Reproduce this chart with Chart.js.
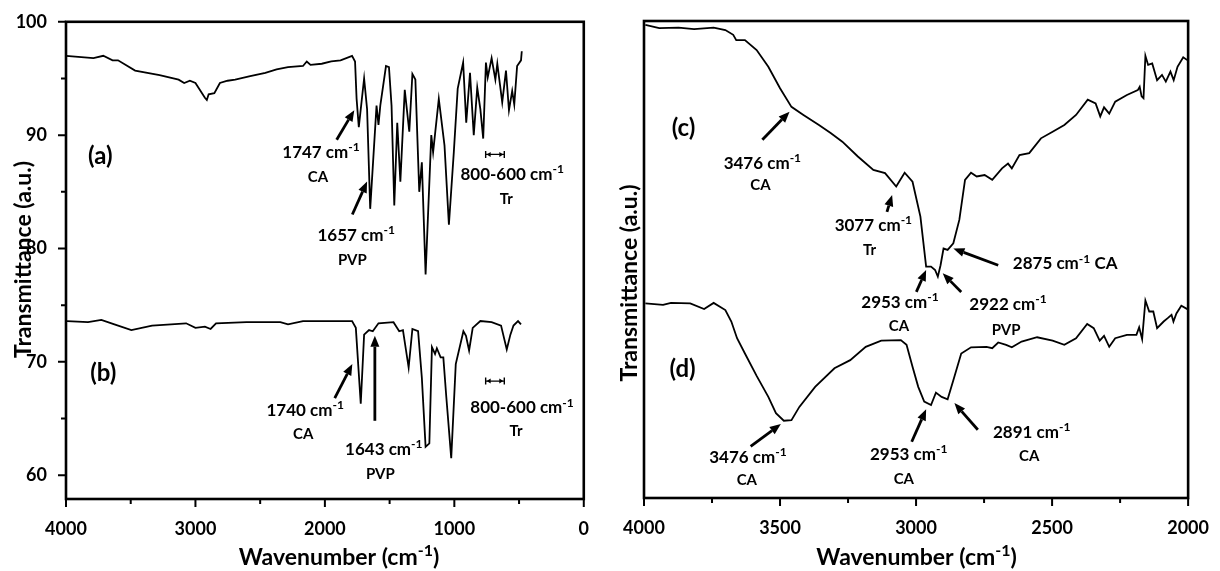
<!DOCTYPE html>
<html lang="en">
<head>
<meta charset="UTF-8">
<title>FTIR spectra</title>
<script src="https://cdn.jsdelivr.net/npm/chart.js"></script>
<style>
  html, body { margin: 0; padding: 0; background: #fff; }
  #wrap { position: relative; width: 1220px; height: 571px; }
  .box { position: absolute; top: 0; height: 571px; }
  #left { left: 0; width: 600px; }
  #right { left: 600px; width: 620px; }
</style>
</head>
<body>
<div id="wrap">
  <div class="box" id="left"><canvas id="chartLeft"></canvas></div>
  <div class="box" id="right"><canvas id="chartRight"></canvas></div>
</div>
<script>
// ---- spectrum (a) : transmittance vs wavenumber
const aWn = [4000,3788,3712,3640,3598,3466,3277,3130,3087,3043,3000,2927,2912,2898,2854,2811,2752,2693,2577,2460,2373,2285,2169,2140,2111,2024,1951,1879,1790,1767,1755,1738,1697,1674,1650,1601,1586,1572,1528,1505,1485,1464,1441,1417,1383,1348,1324,1301,1271,1251,1222,1178,1164,1120,1076,1042,1004,974,932,908,879,850,823,799,777,756,742,712,683,668,630,601,578,553,537,515,485,479];
const aT = [97.0,96.8,97.0,96.6,96.6,95.7,95.3,94.9,94.6,94.8,94.6,93.3,93.1,93.6,93.7,94.6,94.8,94.9,95.2,95.5,95.8,96.0,96.1,96.5,96.2,96.3,96.5,96.6,97.0,96.5,93.2,90.7,95.0,92.3,83.5,92.6,90.9,92.6,96.1,96.0,92.6,83.8,91.1,85.9,94.0,90.3,95.4,94.9,85.0,87.6,77.7,90.0,88.5,93.2,89.1,82.1,88.5,94.1,96.4,91.1,95.5,90.0,94.2,92.3,89.7,96.4,95.1,96.8,94.9,96.3,92.9,95.7,92.2,93.9,92.7,96.1,96.6,97.4];

// ---- spectrum (b)
const bWn = [3992,3830,3727,3626,3495,3335,3072,3000,2927,2883,2841,2606,2344,2285,2169,2023,1790,1761,1723,1697,1659,1630,1586,1470,1426,1397,1353,1324,1280,1251,1222,1193,1173,1149,1135,1106,1085,1062,1024,989,930,910,886,858,799,712,639,595,567,543,508,485];
const bT = [73.6,73.5,73.7,73.3,72.8,73.2,73.4,73.0,73.1,72.9,73.4,73.5,73.5,73.3,73.6,73.6,73.6,73.0,66.3,72.4,72.8,72.7,73.4,73.5,72.7,72.8,69.5,72.9,72.7,68.6,62.5,62.8,71.3,70.7,71.2,70.4,70.4,66.9,61.5,69.8,72.7,72.3,71.0,73.0,73.6,73.5,73.2,71.1,72.4,73.2,73.6,73.3];

// ---- spectrum (c), arbitrary units
const cWn = [3995,3944,3873,3816,3744,3701,3672,3661,3629,3586,3543,3500,3458,3414,3357,3314,3271,3214,3157,3114,3073,3042,3013,2984,2963,2945,2930,2920,2910,2899,2884,2863,2841,2820,2798,2777,2748,2720,2684,2662,2648,2620,2584,2541,2498,2455,2412,2369,2340,2323,2309,2290,2268,2225,2185,2178,2171,2164,2157,2147,2132,2114,2096,2082,2065,2053,2039,2018,2003];
const cT = [99.2,98.5,98.6,98.3,98.6,98.1,97.1,96.0,96.0,93.9,90.4,85.9,82.0,80.3,78.2,76.5,74.7,71.6,68.8,68.1,65.3,68.2,66.3,59.0,48.5,48.5,47.8,46.4,48.8,52.3,52.0,53.4,58.3,66.7,68.2,67.4,67.7,66.7,69.1,70.1,69.1,71.9,72.3,75.4,76.8,78.2,80.3,83.5,82.7,80.0,81.9,80.6,83.1,84.5,85.5,86.2,84.2,83.8,92.7,90.8,91.1,87.6,88.7,87.3,89.4,87.6,90.4,92.4,91.8];

// ---- spectrum (d), arbitrary units
const dWn = [3995,3930,3901,3830,3779,3744,3701,3679,3658,3629,3586,3543,3515,3486,3458,3429,3371,3300,3242,3185,3128,3056,3035,3013,2992,2970,2945,2927,2906,2884,2863,2834,2798,2741,2720,2698,2669,2648,2612,2555,2498,2455,2412,2371,2347,2325,2309,2290,2268,2225,2190,2180,2169,2157,2143,2128,2114,2090,2075,2061,2054,2043,2025,2003];
const dT = [40.8,40.5,40.9,40.8,39.6,40.9,39.4,37.0,33.5,30.3,25.6,21.2,17.8,16.2,16.3,19.1,23.3,27.2,28.9,31.7,33.0,33.1,32.1,27.5,23.3,20.2,19.5,22.1,21.2,20.7,24.7,30.3,31.6,31.7,31.4,32.6,32.1,31.6,32.8,33.7,33.0,32.1,33.5,36.5,35.6,33.0,34.0,31.7,33.5,34.2,34.2,35.8,33.3,41.4,39.1,39.1,35.6,37.0,37.7,38.4,37.0,38.7,40.3,39.6];

// tick labels
const leftXLabels = [4000, 3000, 2000, 1000, 0];
const leftYLabels = [60, 70, 80, 90, 100];
const rightXLabels = [4000, 3500, 3000, 2500, 2000];

// annotations: [wavenumber, value, text, font size]  ({..} = superscript)
const leftNotes = [
  [3735, 88.2, '(a)', 24], [2030, 88.5, '1747 cm{-1}', 17], [2053, 86.3, 'CA', 15],
  [1758, 81.2, '1657 cm{-1}', 17], [1788, 79.0, 'PVP', 15],
  [553, 86.6, '800-600 cm{-1}', 17], [598, 84.4, 'Tr', 15],
  [3712, 69.1, '(b)', 24], [2152, 65.8, '1740 cm{-1}', 17], [2167, 63.7, 'CA', 15],
  [1545, 62.3, '1643 cm{-1}', 17], [1572, 60.1, 'PVP', 15],
  [477, 66.0, '800-600 cm{-1}', 17], [523, 63.9, 'Tr', 15]
];
const leftArrows = [[1909, 89.6, 1773, 92.2], [1788, 83.0, 1674, 85.9], [1924, 66.8, 1788, 69.8], [1614, 64.8, 1614, 72.3]];
const leftRanges = [[758, 614, 88.3], [758, 614, 68.3]];

const rightNotes = [
  [3855, 77.8, '(c)', 24], [3565, 70.2, '3476 cm{-1}', 17], [3572, 65.6, 'CA', 15],
  [3157, 57.2, '3077 cm{-1}', 17], [3171, 52.0, 'Tr', 15], [2452, 49.2, '2875 cm{-1} CA', 17],
  [3059, 41.2, '2953 cm{-1}', 17], [3063, 36.1, 'CA', 15], [2662, 40.7, '2922 cm{-1}', 17], [2669, 35.2, 'PVP', 15],
  [3858, 27.2, '(d)', 24], [3618, 8.7, '3476 cm{-1}', 17], [3622, 3.8, 'CA', 15],
  [3027, 9.2, '2953 cm{-1}', 17], [3045, 4.1, 'CA', 15], [2575, 13.9, '2891 cm{-1}', 17], [2584, 8.8, 'CA', 15]
];
const rightArrows = [[3565, 75.1, 3465, 81.0], [3107, 60.0, 3088, 63.5], [2698, 48.8, 2863, 52.3],
  [2999, 43.2, 2963, 47.8], [2834, 43.2, 2902, 47.1], [3608, 10.8, 3497, 15.5],
  [3016, 11.8, 2963, 18.6], [2773, 14.3, 2859, 19.9]];

const FONT = 'Lato';
Chart.defaults.font.family = FONT;
Chart.defaults.color = '#000';

function pts(xs, ys) { return xs.map((x, i) => ({ x: x, y: ys[i] })); }

// text with {superscript} parts, baseline at y
function drawRich(ctx, str, x, y, size, align, angle) {
  const parts = [];
  str.split(/(\{[^}]*\})/).forEach(s => {
    if (!s) return;
    if (s[0] === '{') parts.push({ t: s.slice(1, -1), sup: true });
    else parts.push({ t: s, sup: false });
  });
  const supSize = Math.round(size * 0.68);
  let w = 0;
  parts.forEach(p => {
    ctx.font = 'bold ' + (p.sup ? supSize : size) + 'px ' + FONT;
    p.w = ctx.measureText(p.t).width;
    w += p.w;
  });
  let cx = align === 'center' ? -w / 2 : (align === 'right' ? -w : 0);
  ctx.save();
  ctx.translate(x, y);
  if (angle) ctx.rotate(angle);
  ctx.textAlign = 'left';
  ctx.textBaseline = 'alphabetic';
  ctx.fillStyle = '#000';
  parts.forEach(p => {
    ctx.font = 'bold ' + (p.sup ? supSize : size) + 'px ' + FONT;
    ctx.fillText(p.t, cx, p.sup ? -size * 0.4 : 0);
    cx += p.w;
  });
  ctx.restore();
}

function arrow(ctx, x1, y1, x2, y2) {
  const ang = Math.atan2(y2 - y1, x2 - x1);
  const hl = 11, hw = 4.5;
  const bx = x2 - hl * Math.cos(ang), by = y2 - hl * Math.sin(ang);
  ctx.lineWidth = 2.8;
  ctx.beginPath(); ctx.moveTo(x1, y1); ctx.lineTo(bx, by); ctx.stroke();
  ctx.beginPath();
  ctx.moveTo(x2, y2);
  ctx.lineTo(bx + hw * Math.sin(ang), by - hw * Math.cos(ang));
  ctx.lineTo(bx - hw * Math.sin(ang), by + hw * Math.cos(ang));
  ctx.closePath(); ctx.fill();
}

function rangeMark(ctx, x1, x2, y) {
  ctx.lineWidth = 1.4;
  ctx.beginPath();
  ctx.moveTo(x1, y - 3.5); ctx.lineTo(x1, y + 3.5);
  ctx.moveTo(x2, y - 3.5); ctx.lineTo(x2, y + 3.5);
  ctx.moveTo(x1, y); ctx.lineTo(x2, y);
  ctx.stroke();
  const d = x2 > x1 ? 1 : -1;
  ctx.beginPath();
  ctx.moveTo(x1 + 1, y); ctx.lineTo(x1 + 1 + 4 * d, y - 2.5); ctx.lineTo(x1 + 1 + 4 * d, y + 2.5); ctx.closePath();
  ctx.moveTo(x2 - 1, y); ctx.lineTo(x2 - 1 - 4 * d, y - 2.5); ctx.lineTo(x2 - 1 - 4 * d, y + 2.5); ctx.closePath();
  ctx.fill();
}

const decor = {
  id: 'decor',
  afterDraw(chart, args, o) {
    const { ctx, chartArea: a } = chart;
    const xs = chart.scales.x, ys = chart.scales.y;
    ctx.save();
    ctx.strokeStyle = '#000';
    ctx.fillStyle = '#000';
    // frame
    ctx.lineWidth = 2.6;
    ctx.strokeRect(a.left, a.top, a.right - a.left, a.bottom - a.top);
    // tick marks
    ctx.lineWidth = 2;
    ctx.beginPath();
    xs.ticks.forEach(t => {
      const px = xs.getPixelForValue(t.value);
      const len = t.value % o.xMajor === 0 ? 8 : 5;
      ctx.moveTo(px, a.bottom); ctx.lineTo(px, a.bottom + len);
    });
    if (o.yTicks) {
      ys.ticks.forEach(t => {
        const py = ys.getPixelForValue(t.value);
        const len = t.value % 10 === 0 ? 8 : 5;
        ctx.moveTo(a.left, py); ctx.lineTo(a.left - len, py);
      });
    }
    ctx.stroke();
    // axis titles
    drawRich(ctx, 'Wavenumber (cm{-1})', o.xTitle[0], o.xTitle[1], 23, 'center');
    drawRich(ctx, 'Transmittance (a.u.)', o.yTitle[0], o.yTitle[1], 23, 'center', -Math.PI / 2);
    // annotations
    o.notes.forEach(n => {
      const size = n[3];
      drawRich(ctx, n[2], xs.getPixelForValue(n[0]), ys.getPixelForValue(n[1]) + size * 0.36, size, 'center');
    });
    o.arrows.forEach(r => arrow(ctx, xs.getPixelForValue(r[0]), ys.getPixelForValue(r[1]),
      xs.getPixelForValue(r[2]), ys.getPixelForValue(r[3])));
    (o.ranges || []).forEach(r => rangeMark(ctx, xs.getPixelForValue(r[0]), xs.getPixelForValue(r[1]), ys.getPixelForValue(r[2])));
    ctx.restore();
  }
};

function lineSet(xs, ys) {
  return { data: pts(xs, ys), showLine: true, borderColor: '#000', borderWidth: 1.8, pointRadius: 0, tension: 0, fill: false };
}

const tickFont = { size: 18, weight: 'bold', family: FONT };

new Chart(document.getElementById('chartLeft'), {
  type: 'scatter',
  data: { datasets: [lineSet(aWn, aT), lineSet(bWn, bT)] },
  options: {
    responsive: true, maintainAspectRatio: false, animation: false,
    layout: { padding: { left: 0, right: 6, top: 19, bottom: 0 } },
    plugins: {
      legend: { display: false }, tooltip: { enabled: false },
      decor: { xMajor: 1000, yTicks: true, xTitle: [339, 565], yTitle: [31, 259.5],
               notes: leftNotes, arrows: leftArrows, ranges: leftRanges }
    },
    scales: {
      x: {
        type: 'linear', min: 0, max: 4000, reverse: true,
        grid: { display: false }, border: { display: false },
        ticks: { stepSize: 500, autoSkip: false, maxRotation: 0, includeBounds: false, padding: 11, font: tickFont,
                 callback: v => leftXLabels.includes(v) ? String(v) : '' },
        afterFit: s => { s.height = 72; }
      },
      y: {
        min: 57.9, max: 100,
        grid: { display: false }, border: { display: false },
        ticks: { stepSize: 5, autoSkip: false, includeBounds: false, padding: 11, font: tickFont,
                 callback: v => leftYLabels.includes(v) ? String(v) : '' },
        afterFit: s => { s.width = 66; }
      }
    }
  },
  plugins: [decor]
});

new Chart(document.getElementById('chartRight'), {
  type: 'scatter',
  data: { datasets: [lineSet(cWn, cT), lineSet(dWn, dT)] },
  options: {
    responsive: true, maintainAspectRatio: false, animation: false,
    layout: { padding: { left: 0, right: 23, top: 21, bottom: 0 } },
    plugins: {
      legend: { display: false }, tooltip: { enabled: false },
      decor: { xMajor: 500, yTicks: false, xTitle: [316.6, 565], yTitle: [37, 283],
               notes: rightNotes, arrows: rightArrows }
    },
    scales: {
      x: {
        type: 'linear', min: 2000, max: 4000, reverse: true,
        grid: { display: false }, border: { display: false },
        ticks: { stepSize: 250, autoSkip: false, maxRotation: 0, includeBounds: false, padding: 11, font: tickFont,
                 callback: v => rightXLabels.includes(v) ? String(v) : '' },
        afterFit: s => { s.height = 73; }
      },
      y: {
        min: 0, max: 100,
        grid: { display: false }, border: { display: false },
        ticks: { display: false },
        afterFit: s => { s.width = 44; }
      }
    }
  },
  plugins: [decor]
});
</script>
</body>
</html>
